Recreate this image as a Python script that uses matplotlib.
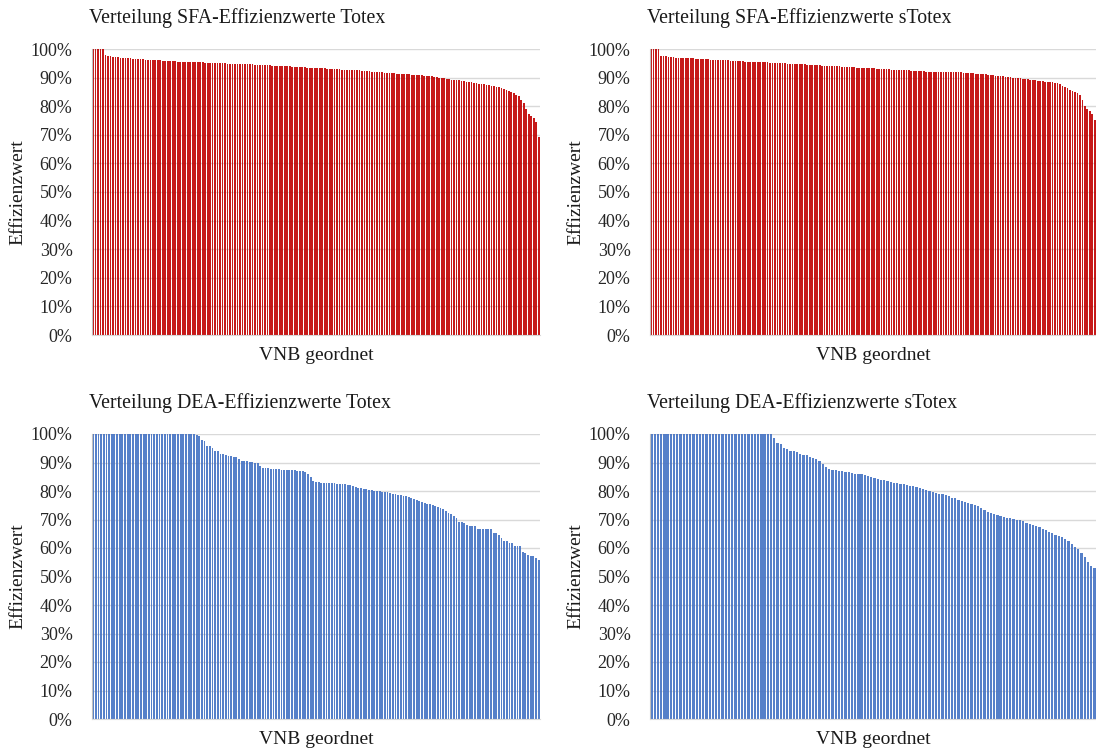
#!/usr/bin/env python3
import matplotlib
matplotlib.use('Agg')
import matplotlib.pyplot as plt
import numpy as np
from matplotlib.ticker import PercentFormatter

plt.rcParams['font.family'] = ['Liberation Serif', 'DejaVu Serif']

# Efficiency scores per VNB (sorted), in %
sfa_totex = [
    100, 100, 100, 100, 100,
    97.8, 97.6, 97.4, 97.3, 97.2, 97.1, 97.0, 96.9, 96.9, 96.8,
    96.7, 96.6, 96.6, 96.5, 96.5, 96.4, 96.3, 96.3, 96.2, 96.1,
    96.1, 96.0, 96.0, 95.9, 95.9, 95.8, 95.8, 95.7, 95.7, 95.6,
    95.6, 95.5, 95.5, 95.5, 95.4, 95.4, 95.4, 95.3, 95.3, 95.3,
    95.2, 95.2, 95.2, 95.1, 95.1, 95.1, 95.0, 95.0, 95.0, 94.9,
    94.9, 94.9, 94.8, 94.8, 94.8, 94.7, 94.7, 94.6, 94.6, 94.6,
    94.5, 94.5, 94.4, 94.4, 94.4, 94.3, 94.3, 94.2, 94.2, 94.1,
    94.1, 94.0, 94.0, 93.9, 93.9, 93.8, 93.8, 93.7, 93.7, 93.6,
    93.6, 93.5, 93.5, 93.4, 93.4, 93.3, 93.3, 93.2, 93.2, 93.1,
    93.1, 93.0, 93.0, 92.9, 92.9, 92.8, 92.8, 92.7, 92.7, 92.6,
    92.6, 92.5, 92.5, 92.4, 92.3, 92.3, 92.2, 92.1, 92.0, 91.9,
    91.9, 91.8, 91.7, 91.7, 91.6, 91.5, 91.5, 91.4, 91.3, 91.3,
    91.2, 91.1, 91.1, 91.0, 90.9, 90.9, 90.8, 90.8, 90.7, 90.6,
    90.5, 90.4, 90.3, 90.1, 90.0, 89.9, 89.8, 89.6, 89.5, 89.3,
    89.2, 89.1, 89.0, 88.8, 88.7, 88.6, 88.4, 88.3, 88.1, 88.0,
    87.8, 87.7, 87.6, 87.4, 87.3, 87.1, 87.0, 86.8, 86.6, 86.2,
    86.0, 85.6, 85.2, 84.9, 84.5, 84.0, 83.6, 82.0, 81.1, 79.0,
    77.2, 76.5, 75.9, 74.6, 69.4,
]

sfa_stotex = [
    100, 100, 100, 100,
    97.7, 97.5, 97.4, 97.3, 97.2, 97.1, 97.0, 97.0, 96.9, 96.9,
    96.8, 96.8, 96.7, 96.7, 96.6, 96.6, 96.5, 96.5, 96.4, 96.4,
    96.3, 96.3, 96.2, 96.2, 96.1, 96.1, 96.0, 96.0, 95.9, 95.9,
    95.8, 95.8, 95.7, 95.7, 95.6, 95.6, 95.5, 95.5, 95.5, 95.4,
    95.4, 95.3, 95.3, 95.3, 95.2, 95.2, 95.1, 95.1, 95.0, 95.0,
    95.0, 94.9, 94.9, 94.8, 94.8, 94.7, 94.7, 94.6, 94.6, 94.5,
    94.5, 94.4, 94.4, 94.3, 94.3, 94.2, 94.2, 94.1, 94.1, 94.0,
    94.0, 93.9, 93.9, 93.8, 93.8, 93.7, 93.7, 93.6, 93.6, 93.5,
    93.5, 93.4, 93.4, 93.3, 93.3, 93.2, 93.2, 93.1, 93.1, 93.0,
    93.0, 92.9, 92.9, 92.8, 92.8, 92.7, 92.7, 92.6, 92.6, 92.5,
    92.5, 92.4, 92.4, 92.3, 92.3, 92.2, 92.2, 92.1, 92.1, 92.0,
    92.0, 92.0, 92.0, 92.0, 92.0, 92.0, 92.0, 92.0, 91.9, 91.9,
    91.8, 91.8, 91.7, 91.7, 91.6, 91.6, 91.5, 91.4, 91.3, 91.2,
    91.2, 91.1, 91.0, 90.9, 90.8, 90.7, 90.6, 90.5, 90.4, 90.3,
    90.2, 90.1, 90.0, 89.9, 89.8, 89.7, 89.6, 89.5, 89.4, 89.2,
    89.1, 89.0, 88.9, 88.8, 88.7, 88.6, 88.6, 88.5, 88.3, 88.1,
    88.0, 87.6, 87.2, 86.8, 86.2, 85.7, 85.4, 85.1, 84.6, 84.0,
    82.2, 80.1, 79.1, 78.4, 77.3, 75.2,
]

dea_totex = [
    100, 100, 100, 100, 100, 100, 100, 100, 100, 100,
    100, 100, 100, 100, 100, 100, 100, 100, 100, 100,
    100, 100, 100, 100, 100, 100, 100, 100, 100, 100,
    100, 100, 100, 100, 100, 100, 100, 100, 100,
    99.6, 99.3, 97.9, 97.7, 95.8, 95.8, 95.2, 94.0, 94.0, 92.9,
    92.9, 92.6, 92.3, 92.3, 91.8, 91.8, 91.3, 90.6, 90.6, 90.6,
    90.2, 90.2, 89.7, 89.7, 88.8, 88.1, 88.1, 88.1, 87.6, 87.6,
    87.6, 87.6, 87.5, 87.5, 87.5, 87.4, 87.4, 87.2, 87.0, 86.9,
    86.9, 86.5, 86.0, 84.8, 83.5, 83.2, 83.0, 82.9, 82.9, 82.8,
    82.8, 82.7, 82.7, 82.6, 82.5, 82.4, 82.3, 82.2, 82.0, 81.8,
    81.5, 81.2, 81.0, 80.8, 80.6, 80.4, 80.3, 80.1, 80.0, 79.9,
    79.8, 79.6, 79.5, 79.3, 79.1, 78.9, 78.7, 78.5, 78.3, 78.1,
    77.8, 77.6, 77.3, 77.0, 76.6, 76.2, 75.9, 75.6, 75.3, 75.0,
    74.7, 74.4, 74.1, 73.6, 73.0, 72.4, 71.8, 71.2, 70.5, 69.2,
    69.2, 68.6, 68.1, 67.7, 67.7, 67.7, 66.6, 66.6, 66.6, 66.6,
    66.6, 66.6, 65.4, 65.4, 64.6, 63.4, 62.5, 62.5, 61.6, 61.6,
    60.6, 60.6, 60.6, 58.5, 58.1, 57.5, 57.2, 57.2, 56.5, 55.8,
]

dea_stotex = [
    100, 100, 100, 100, 100, 100, 100, 100, 100, 100,
    100, 100, 100, 100, 100, 100, 100, 100, 100, 100,
    100, 100, 100, 100, 100, 100, 100, 100, 100, 100,
    100, 100, 100, 100, 100, 100, 100, 100,
    98.5, 97.0, 96.5, 95.2, 94.8, 94.2, 94.0, 93.6, 93.0, 92.7,
    92.5, 92.0, 91.6, 91.3, 90.5, 89.5, 88.5, 87.6, 87.4, 87.2,
    87.0, 86.9, 86.7, 86.5, 86.3, 86.1, 86.0, 85.8, 85.5, 85.2,
    85.0, 84.6, 84.2, 84.0, 83.8, 83.4, 83.1, 82.9, 82.7, 82.5,
    82.3, 82.1, 81.9, 81.7, 81.5, 81.2, 80.8, 80.4, 80.0, 79.7,
    79.4, 79.1, 78.8, 78.5, 78.1, 77.7, 77.4, 77.0, 76.6, 76.2,
    75.9, 75.5, 75.1, 74.6, 74.0, 73.4, 72.8, 72.3, 71.9, 71.5,
    71.1, 70.8, 70.6, 70.4, 70.2, 70.0, 69.8, 69.4, 68.9, 68.5,
    68.1, 67.6, 67.2, 66.8, 66.2, 65.6, 65.1, 64.6, 64.2, 63.7,
    63.0, 62.3, 61.5, 60.5, 59.5, 58.2, 56.8, 55.2, 53.8, 53.0,
]

titles = [
    'Verteilung SFA-Effizienzwerte Totex',
    'Verteilung SFA-Effizienzwerte sTotex',
    'Verteilung DEA-Effizienzwerte Totex',
    'Verteilung DEA-Effizienzwerte sTotex',
]
series = [sfa_totex, sfa_stotex, dea_totex, dea_stotex]
colors = ['#C00000', '#C00000', '#4472C4', '#4472C4']

W, H = 1096, 749
fig = plt.figure(figsize=(W / 100, H / 100), dpi=100)

# pixel boxes: (left, top, right, bottom)
boxes = [(92, 49, 540, 335), (650, 49, 1096, 335),
         (92, 434, 540, 719), (650, 434, 1096, 719)]

for vals, title, col, (l, t, r, b) in zip(series, titles, colors, boxes):
    ax = fig.add_axes([l / W, 1 - b / H, (r - l) / W, (b - t) / H])
    v = np.array(vals) / 100.0
    x = np.arange(len(v))
    ax.bar(x, v, width=0.7, color=col, alpha=0.9, zorder=2, linewidth=0)
    ax.set_xlim(-0.45, len(v) - 0.5)
    ax.set_ylim(0, 1.0)
    ax.set_yticks(np.arange(0, 1.01, 0.1))
    ax.yaxis.set_major_formatter(PercentFormatter(1.0, decimals=0))
    ax.set_xticks([])
    ax.grid(axis='y', color='#D9D9D9', linewidth=1.0, zorder=0)
    ax.set_axisbelow(True)
    for s in ['top', 'right']:
        ax.spines[s].set_visible(False)
    ax.spines['left'].set_color('#BFBFBF')
    ax.spines['bottom'].set_color('#D9D9D9')
    ax.tick_params(axis='y', length=0, pad=14, labelsize=13, colors='#262626')

    fig.text((l - 3) / W, 1 - (t - 31) / H, title, fontsize=14.3,
             ha='left', va='center', color='#1a1a1a')
    fig.text((l + r) / 2 / W, 1 - (b + 21) / H, 'VNB geordnet', fontsize=14,
             ha='center', va='center', color='#1a1a1a')
    fig.text((l - 74) / W, 1 - (t + b) / 2 / H, 'Effizienzwert', fontsize=14,
             ha='center', va='center', rotation=90, color='#1a1a1a')

plt.savefig('out.png', dpi=100)
